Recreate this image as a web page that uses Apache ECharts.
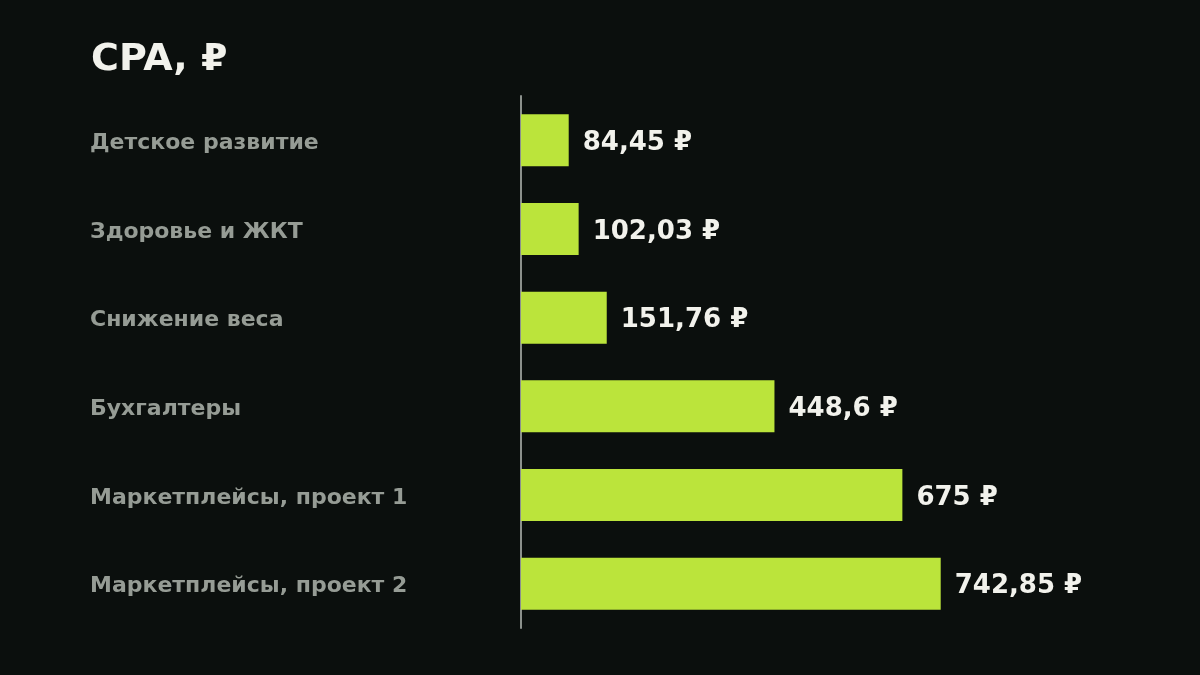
<!DOCTYPE html>
<html>
<head>
<meta charset="utf-8">
<script src="https://cdn.jsdelivr.net/npm/echarts@6/dist/echarts.min.js"></script>
<style>
html,body{margin:0;padding:0;background:#0b0f0d;}
#c{width:1200px;height:675px;}
</style>
</head>
<body>
<div id="c"></div>
<script>
const categories = ['Детское развитие','Здоровье и ЖКТ','Снижение веса','Бухгалтеры','Маркетплейсы, проект 1','Маркетплейсы, проект 2'];
const values = [84.45, 102.03, 151.76, 448.6, 675, 742.85];
const titleText = 'CPA, ₽';

const chart = echarts.init(document.getElementById('c'));
chart.setOption({
  backgroundColor: '#0b0f0d',
  animation: false,
  title: {
    text: titleText,
    left: 86, top: 36,
    textStyle: {color: '#f2f2ec', fontFamily: 'DejaVu Sans', fontWeight: 'bold', fontSize: 38}
  },
  grid: {left: 521, right: 114, top: 96, bottom: 47},
  xAxis: {
    type: 'value', min: 0, max: 1000,
    show: false
  },
  yAxis: {
    type: 'category', data: categories, inverse: true,
    axisLine: {show: true, lineStyle: {color: '#8c918c', width: 2}},
    axisTick: {show: false},
    axisLabel: {
      align: 'left', margin: 431,
      verticalAlign: 'top', lineHeight: 6,
      color: '#969c95', fontFamily: 'DejaVu Sans', fontWeight: 'bold', fontSize: 22
    }
  },
  series: [{
    type: 'bar', data: values, barWidth: 52,
    itemStyle: {color: '#bbe43b'},
    label: {
      show: true, position: 'right', distance: 14, offset: [0, 3],
      color: '#f2f2ec', fontFamily: 'DejaVu Sans', fontWeight: 'bold', fontSize: 26,
      formatter: p => String(p.value).replace('.', ',') + ' ₽'
    }
  }]
});
</script>
</body>
</html>
